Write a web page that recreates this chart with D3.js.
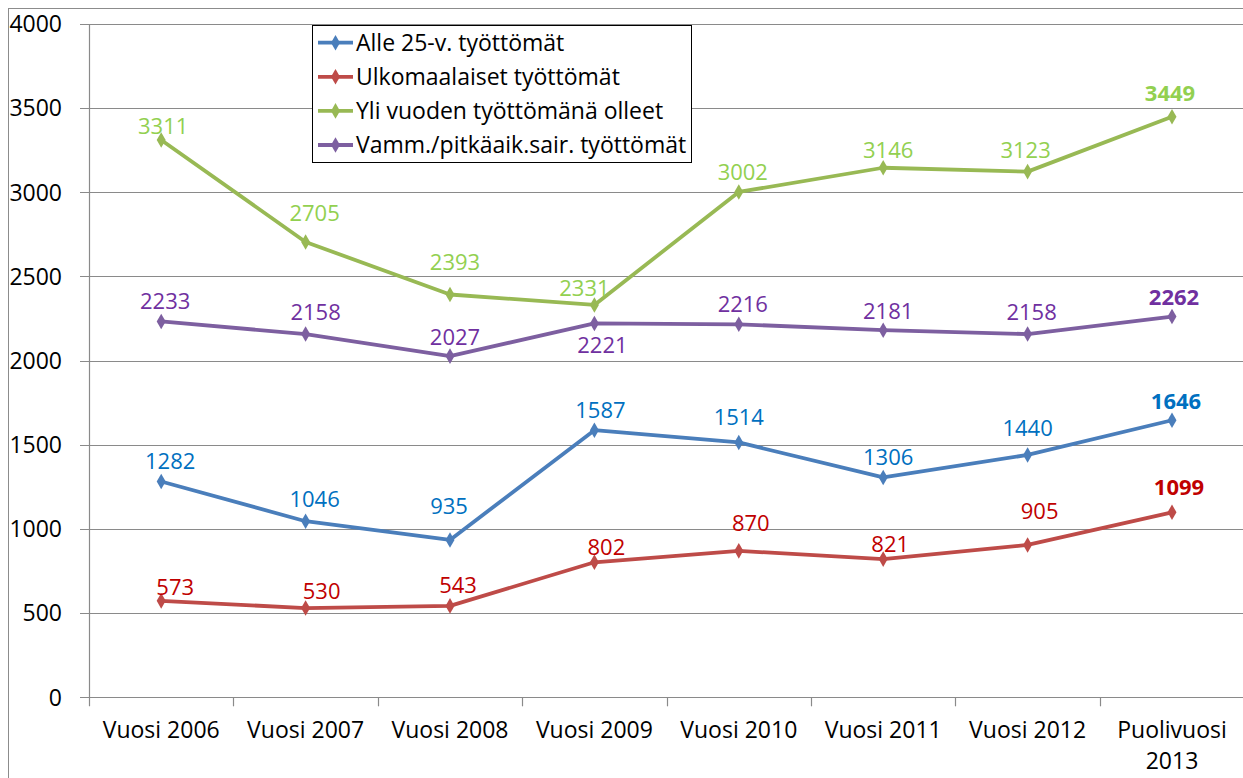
<!DOCTYPE html>
<html>
<head>
<meta charset="utf-8">
<script src="https://cdn.jsdelivr.net/npm/d3@7"></script>
<style>
  body { margin: 0; background: #fff; }
  svg { display: block; font-family: "Open Sans", "Noto Sans", sans-serif; }
</style>
</head>
<body>
<div id="chart"></div>
<script>
// categories and series
var categories = ["Vuosi 2006", "Vuosi 2007", "Vuosi 2008", "Vuosi 2009", "Vuosi 2010", "Vuosi 2011", "Vuosi 2012", "Puolivuosi 2013"];
var alle25 = [1282, 1046, 935, 1587, 1514, 1306, 1440, 1646];
var ulkomaalaiset = [573, 530, 543, 802, 870, 821, 905, 1099];
var yliVuoden = [3311, 2705, 2393, 2331, 3002, 3146, 3123, 3449];
var vammaiset = [2233, 2158, 2027, 2221, 2216, 2181, 2158, 2262];
var seriesNames = ["Alle 25-v. työttömät", "Ulkomaalaiset työttömät", "Yli vuoden työttömänä olleet", "Vamm./pitkäaik.sair. työttömät"];
var yTicks = [0, 500, 1000, 1500, 2000, 2500, 3000, 3500, 4000];

// data label nudges in px (labels were hand placed in the original)
var labelDx = [
  [9, 9, -1, 6, 0, 5, 0, 4],
  [14, 16, 8, 12, 12, 7, 12, 7],
  [2, 9, 5, -10, 4, 5, -2, -2],
  [4, 10, 5, 8, 4, 5, 4, 2]
];
var labelDy = [
  [-20, -22, -34, -20, -25, -20, -27, -19],
  [-14, -17, -21, -15, -28, -15, -34, -25],
  [-14, -29, -32, -17, -20, -18, -22, -24],
  [-20, -22, -19, 22, -20, -19, -22, -19]
];

var W = 1243, H = 778;
var plotLeft = 89, plotTop = 24, plotBottom = 697.3, band = 144.4;
var axisFont = 23;

var series = [
  { name: seriesNames[0], values: alle25, line: "#4a7ebb", label: "#0070c0" },
  { name: seriesNames[1], values: ulkomaalaiset, line: "#be4b48", label: "#c00000" },
  { name: seriesNames[2], values: yliVuoden, line: "#98b954", label: "#92d050" },
  { name: seriesNames[3], values: vammaiset, line: "#7d5fa0", label: "#7030a0" }
];

var svg = d3.select("#chart").append("svg")
  .attr("width", W)
  .attr("height", H);

// outer chart border
svg.append("rect")
  .attr("x", 8.5).attr("y", 8.5)
  .attr("width", W).attr("height", H)
  .attr("fill", "none")
  .attr("stroke", "#8c8c8c");

var x = d3.scaleBand()
  .domain(categories)
  .range([plotLeft, plotLeft + band * categories.length])
  .padding(0);

var y = d3.scaleLinear()
  .domain([0, 4000])
  .range([plotBottom, plotTop]);

// horizontal gridlines
svg.append("g").selectAll("line")
  .data(yTicks)
  .enter().append("line")
  .attr("x1", plotLeft - 9)
  .attr("x2", W)
  .attr("y1", function (d) { return Math.round(y(d)) + 0.5; })
  .attr("y2", function (d) { return Math.round(y(d)) + 0.5; })
  .attr("stroke", "#8a8a8a")
  .attr("stroke-width", 1.2);

// y axis line
svg.append("line")
  .attr("x1", plotLeft + 0.5).attr("x2", plotLeft + 0.5)
  .attr("y1", plotTop).attr("y2", plotBottom + 9)
  .attr("stroke", "#8a8a8a")
  .attr("stroke-width", 1.2);

// x tick marks at category boundaries
svg.append("g").selectAll("line")
  .data(categories.slice(1))
  .enter().append("line")
  .attr("x1", function (d) { return Math.round(x(d)) + 0.5; })
  .attr("x2", function (d) { return Math.round(x(d)) + 0.5; })
  .attr("y1", plotBottom)
  .attr("y2", plotBottom + 9)
  .attr("stroke", "#8a8a8a")
  .attr("stroke-width", 1.2);

// y tick labels
svg.append("g").selectAll("text")
  .data(yTicks)
  .enter().append("text")
  .attr("x", 62)
  .attr("y", function (d) { return y(d); })
  .attr("dy", "0.36em")
  .attr("text-anchor", "end")
  .attr("font-size", axisFont)
  .attr("fill", "#000")
  .text(function (d) { return d; });

// x category labels
var xl = svg.append("g").selectAll("text")
  .data(categories)
  .enter().append("text")
  .attr("text-anchor", "middle")
  .attr("font-size", axisFont)
  .attr("fill", "#000");

xl.each(function (d) {
  var t = d3.select(this);
  var cx = x(d) + x.bandwidth() / 2;
  var parts = d === "Puolivuosi 2013" ? ["Puolivuosi", "2013"] : [d];
  parts.forEach(function (p, i) {
    t.append("tspan").attr("x", cx).attr("y", 738 + i * 31).text(p);
  });
});

var lineGen = d3.line()
  .x(function (d, i) { return x(categories[i]) + x.bandwidth() / 2; })
  .y(function (d) { return y(d); });

var diamond = d3.symbol().type(d3.symbolDiamond).size(70);

series.forEach(function (s, si) {
  var g = svg.append("g");
  g.append("path")
    .datum(s.values)
    .attr("d", lineGen)
    .attr("fill", "none")
    .attr("stroke", s.line)
    .attr("stroke-width", 3.8)
    .attr("stroke-linejoin", "round");

  g.selectAll("path.m")
    .data(s.values)
    .enter().append("path")
    .attr("class", "m")
    .attr("d", diamond)
    .attr("transform", function (d, i) {
      return "translate(" + (x(categories[i]) + x.bandwidth() / 2) + "," + y(d) + ")";
    })
    .attr("fill", s.line);

  g.selectAll("text")
    .data(s.values)
    .enter().append("text")
    .attr("x", function (d, i) { return x(categories[i]) + x.bandwidth() / 2 + labelDx[si][i]; })
    .attr("y", function (d, i) { return y(d) + labelDy[si][i]; })
    .attr("dy", "0.36em")
    .attr("text-anchor", "middle")
    .attr("font-size", 22)
    .attr("font-weight", function (d, i) { return i === categories.length - 1 ? "bold" : "normal"; })
    .attr("fill", s.label)
    .text(function (d) { return d; });
});

// legend
var legend = svg.append("g");
legend.append("rect")
  .attr("x", 312.5).attr("y", 25.5)
  .attr("width", 379).attr("height", 137)
  .attr("fill", "#fff")
  .attr("stroke", "#000")
  .attr("stroke-width", 1);

var items = legend.selectAll("g.item")
  .data(series)
  .enter().append("g")
  .attr("class", "item")
  .attr("transform", function (d, i) { return "translate(0," + (42.7 + i * 34.1) + ")"; });

items.append("line")
  .attr("x1", 318).attr("x2", 353)
  .attr("y1", 0).attr("y2", 0)
  .attr("stroke", function (d) { return d.line; })
  .attr("stroke-width", 3.8);

items.append("path")
  .attr("d", diamond)
  .attr("transform", "translate(335.5,0)")
  .attr("fill", function (d) { return d.line; });

items.append("text")
  .attr("x", 356)
  .attr("y", 0)
  .attr("dy", "0.36em")
  .attr("font-size", axisFont)
  .attr("fill", "#000")
  .text(function (d) { return d.name; });
</script>
</body>
</html>
